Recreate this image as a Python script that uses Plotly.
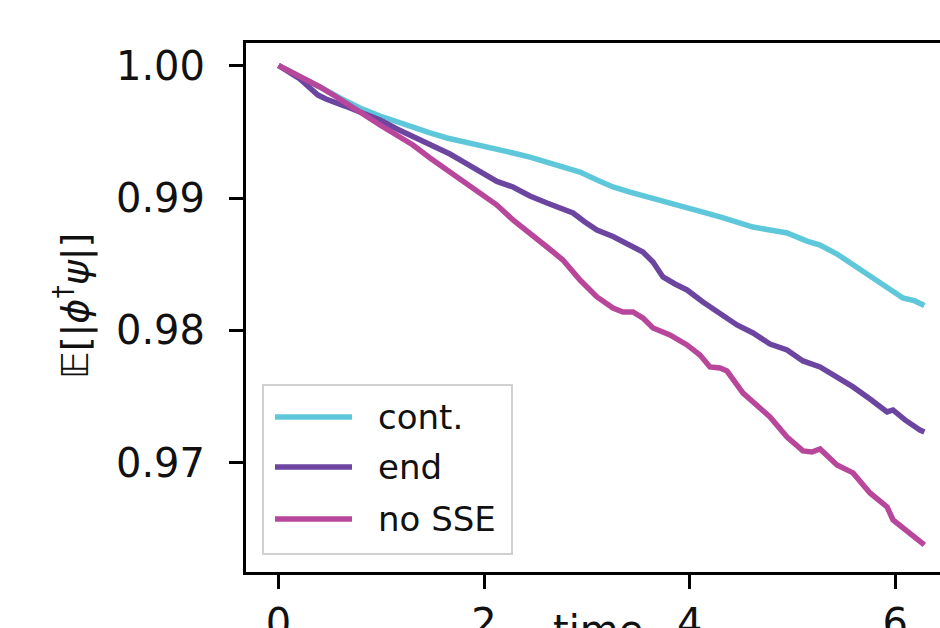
import plotly.graph_objects as go

# ---- data ----
t_cont = [0.0, 0.209, 0.404, 0.598, 0.793, 0.988, 1.153, 1.308, 1.474, 1.639, 1.795, 1.960,
          2.125, 2.281, 2.446, 2.612, 2.767, 2.933, 3.098, 3.254, 3.419, 3.643, 3.808, 3.974,
          4.129, 4.295, 4.460, 4.616, 4.781, 4.947, 5.141, 5.268, 5.433, 5.589, 5.754, 5.920,
          6.074, 6.191, 6.283]
v_cont = [1.0, 0.99921, 0.99838, 0.99755, 0.99679, 0.99619, 0.99574, 0.99536, 0.99491, 0.99453,
          0.99423, 0.99400, 0.99370, 0.99340, 0.99309, 0.99272, 0.99242, 0.99196, 0.99136,
          0.99083, 0.99045, 0.99000, 0.98962, 0.98932, 0.98894, 0.98857, 0.98819, 0.98781,
          0.98758, 0.98736, 0.98675, 0.98645, 0.98577, 0.98494, 0.98411, 0.98328, 0.98245,
          0.98223, 0.98188]

t_end = [0.0, 0.112, 0.209, 0.306, 0.384, 0.462, 0.550, 0.647, 0.793, 0.988, 1.153, 1.308,
         1.425, 1.542, 1.668, 1.795, 1.960, 2.125, 2.281, 2.446, 2.612, 2.738, 2.865, 2.981,
         3.098, 3.254, 3.400, 3.545, 3.643, 3.740, 3.857, 3.974, 4.129, 4.295, 4.460, 4.616,
         4.781, 4.947, 5.102, 5.268, 5.433, 5.589, 5.754, 5.920, 5.978, 6.094, 6.240, 6.283]
v_end = [1.0, 0.99951, 0.99898, 0.99830, 0.99777, 0.99747, 0.99725, 0.99694, 0.99649, 0.99589,
         0.99521, 0.99464, 0.99430, 0.99385, 0.99332, 0.99275, 0.99196, 0.99125, 0.99083,
         0.99015, 0.98962, 0.98925, 0.98887, 0.98819, 0.98758, 0.98709, 0.98645, 0.98592,
         0.98517, 0.98404, 0.98351, 0.98306, 0.98215, 0.98132, 0.98042, 0.97981, 0.97898,
         0.97853, 0.97770, 0.97725, 0.97649, 0.97574, 0.97483, 0.97385, 0.97400, 0.97325,
         0.97249, 0.97234]

t_nosse = [0.0, 0.112, 0.258, 0.403, 0.549, 0.695, 0.841, 0.987, 1.153, 1.308, 1.474, 1.639,
           1.795, 1.960, 2.125, 2.281, 2.446, 2.612, 2.767, 2.933, 3.098, 3.254, 3.351, 3.448,
           3.545, 3.643, 3.808, 3.974, 4.100, 4.197, 4.295, 4.363, 4.519, 4.655, 4.781, 4.947,
           5.102, 5.190, 5.268, 5.433, 5.589, 5.754, 5.920, 5.978, 6.143, 6.283]
v_nosse = [1.0, 0.99958, 0.99898, 0.99838, 0.99770, 0.99702, 0.99626, 0.99551, 0.99475,
           0.99400, 0.99302, 0.99211, 0.99136, 0.99038, 0.98947, 0.98834, 0.98736, 0.98630,
           0.98532, 0.98381, 0.98253, 0.98170, 0.98140, 0.98140, 0.98094, 0.98019, 0.97966,
           0.97891, 0.97815, 0.97725, 0.97717, 0.97694, 0.97528, 0.97430, 0.97347, 0.97196,
           0.97091, 0.97083, 0.97106, 0.96985, 0.96925, 0.96774, 0.96668, 0.96570, 0.96472,
           0.96381]

series_names = ["cont.", "end", "no SSE"]
series_colors = ["#5ec8da", "#6b45a0", "#b8479c"]

x_ticks = [0, 2, 4, 6]
y_ticks = [0.97, 0.98, 0.99, 1.00]
y_tick_labels = ["0.97", "0.98", "0.99", "1.00"]

# ---- figure ----
W, H = 940, 628
L, R, T, B = 246, 0, 43, 56
PW, PH = W - L - R, H - T - B


def px(x):
    return (x - L) / PW


def py(y):
    return (H - B - y) / PH


fig = go.Figure()
for tt, vv, name, col in zip([t_cont, t_end, t_nosse], [v_cont, v_end, v_nosse],
                             series_names, series_colors):
    fig.add_trace(go.Scatter(x=tt, y=vv, mode="lines", name=name,
                             line=dict(color=col, width=5.5), showlegend=False))

font_family = "DejaVu Sans"
fig.update_layout(
    width=W, height=H,
    margin=dict(l=L, r=R, t=T, b=B, autoexpand=False),
    paper_bgcolor="white", plot_bgcolor="white",
    font=dict(family=font_family, color="#111111"),
    xaxis=dict(range=[-0.316, 6.435], tickvals=x_ticks, showgrid=False, zeroline=False,
               automargin=False,
               showline=True, linecolor="black", linewidth=3, mirror=True,
               ticks="outside", ticklen=14, tickwidth=3, tickcolor="black",
               tickfont=dict(size=40, family=font_family, color="#111111")),
    yaxis=dict(range=[0.96177, 1.0017], tickvals=y_ticks, ticktext=y_tick_labels,
               showgrid=False, zeroline=False, automargin=False,
               showline=True, linecolor="black", linewidth=3, mirror=False,
               ticks="outside", ticklen=14, tickwidth=3, tickcolor="black",
               ticklabelstandoff=16,
               tickfont=dict(size=40, family=font_family, color="#111111")),
)

# manual legend (matplotlib-style box)
fig.add_shape(type="rect", xref="paper", yref="paper",
              x0=px(263), x1=px(512), y0=py(554), y1=py(385),
              line=dict(color="#d0d0d0", width=2), fillcolor="rgba(255,255,255,0.8)")
for name, col, yy in zip(series_names, series_colors, [417, 467, 519]):
    fig.add_shape(type="line", xref="paper", yref="paper",
                  x0=px(275), x1=px(352), y0=py(yy), y1=py(yy),
                  line=dict(color=col, width=5.5))
    fig.add_annotation(xref="paper", yref="paper", x=px(376), y=py(yy),
                       xanchor="left", yanchor="middle", showarrow=False,
                       text=name, font=dict(size=34, family=font_family, color="#111111"))

# axis titles
fig.add_annotation(xref="paper", yref="paper", x=px(598), y=py(605),
                   xanchor="center", yanchor="top", showarrow=False,
                   text="time", font=dict(size=40, family=font_family, color="#111111"))
fig.add_annotation(xref="paper", yref="paper", x=px(72), y=py(306),
                   xanchor="center", yanchor="middle", showarrow=False, textangle=-90,
                   text="𝔼[|<i>ϕ</i><sup>†</sup><i>ψ</i>|]",
                   font=dict(size=38, family=font_family, color="#111111"))

fig.write_html("out.html")
